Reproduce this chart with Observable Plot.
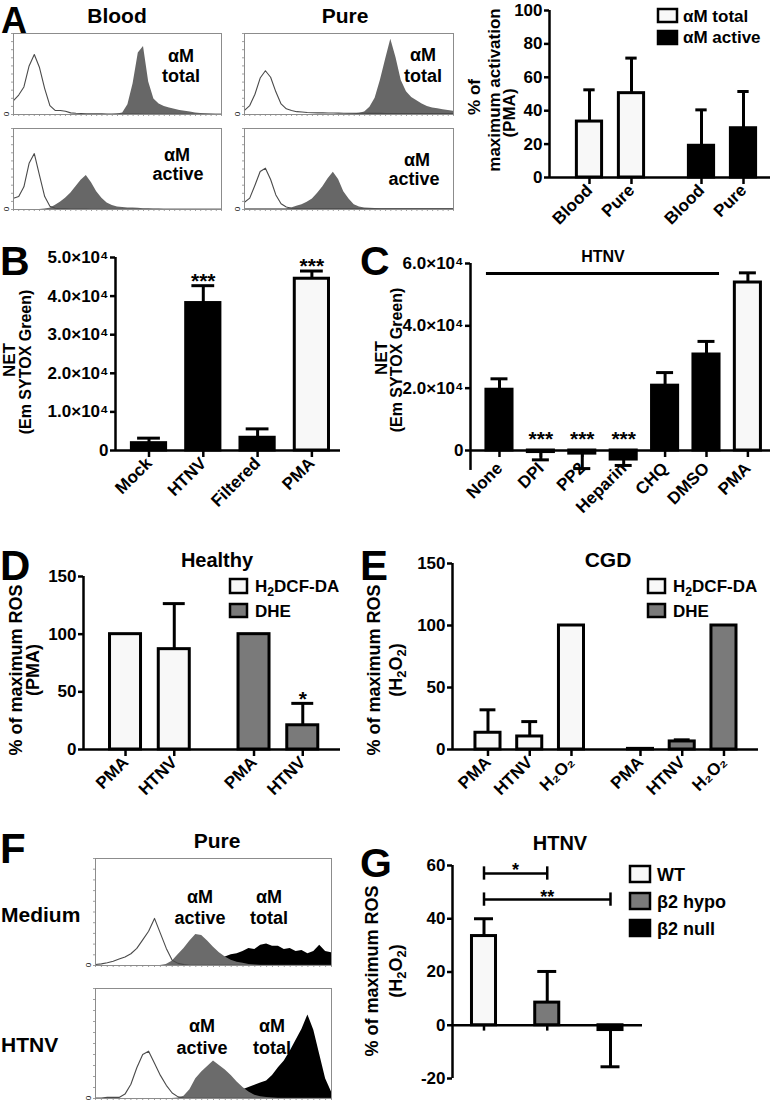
<!DOCTYPE html>
<html><head><meta charset="utf-8">
<script src="https://cdn.jsdelivr.net/npm/d3@7"></script>
<script src="https://cdn.jsdelivr.net/npm/@observablehq/plot@0.6"></script>
<style>
body{margin:0;background:#fff;}
#fig{position:relative;width:770px;height:1101px;overflow:hidden;background:#fff;font-family:"Liberation Sans",Arial,Helvetica,sans-serif;}
.pane{position:absolute;}
.pane svg{overflow:visible;}
#ov{position:absolute;left:0;top:0;pointer-events:none;overflow:visible;}
</style></head><body><div id="fig"></div>
<script>
// ---------------- DATA ----------------
// Flow cytometry histogram bins (log10 fluorescence, decades)
const histBins = [0,0.1,0.2,0.3,0.4,0.5,0.6,0.7,0.8,0.9,1,1.1,1.2,1.3,1.4,1.5,1.6,1.7,1.8,1.9,2,2.1,2.2,2.3,2.4,2.5,2.6,2.7,2.8,2.9,3,3.1,3.2,3.3,3.4,3.5,3.6,3.7,3.8,3.9,4];
// Panel A histograms (% of max count)
const aBloodTotalIso   = [17,24,34,60,74,58,32,11,5,5,4,2,1.5,1.2,1,1,0.8,0.8,0.7,0.6,0.6,0.5,0.5,0.5,0.5,0.4,0.4,0.4,0.4,0.3,0.3,0.3,0.3,0.3,0.2,0.2,0.2,0.2,0.2,0.2,0.2];
const aBloodTotalStain = [0,0,0,0,0,0,0,0,0,0,0,0,0,0,0,0,0,0,0,0,0.5,2,12,38,76,84,40,19,13,10,8,6.5,5,4,3,2,1.2,0.8,0.5,0.4,0.3];
const aBloodActiveIso  = [14,16,28,57,69,42,16,4,1.5,1,0.8,0.6,0.5,0.5,0.5,0.4,0.4,0.4,0.4,0.4,0.3,0.3,0.3,0.3,0.3,0.3,0.3,0.3,0.3,0.3,0.3,0.3,0.3,0.3,0.3,0.3,0.3,0.3,0.3,0.3,0.3];
const aBloodActiveStain= [0,0,0,0,0,0,0.5,1.5,5,9,14,20,28,36,42,33,22,14,8,5,3,2.5,2,2,1.5,1,0.8,0.6,0.5,0.4,0.3,0.3,0.3,0.3,0.3,0.3,0.3,0.3,0.3,0.3,0.3];
const aPureTotalIso    = [5,11,25,45,54,46,28,13,7,5,3.5,3,2.5,2.2,2,2,1.8,1.8,1.7,1.6,1.6,1.5,1.5,1.5,1.4,1.4,1.4,1.3,1.3,1.3,1.3,1.3,1.2,1.2,1.2,1.2,1.2,1.2,1.2,1.2,1.2];
const aPureTotalStain  = [0,0,0,0,0,0,0,0,0,0,0,0,0,0,0,0,0,0,0,0,0.5,1,1.5,3,9,20,42,68,93,70,42,28,21,17,13,10,8,7,6,5,4];
const aPureActiveIso   = [9,14,30,47,51,37,18,7,3,1.5,1.2,1,1,1,1,0.9,0.9,0.9,0.9,0.9,0.8,0.8,0.8,0.8,0.8,0.8,0.8,0.8,0.8,0.8,0.8,0.8,0.8,0.8,0.8,0.8,0.8,0.8,0.8,0.8,0.8];
const aPureActiveStain = [0.8,0.8,0.8,0.8,0.8,0.8,0.8,0.8,0.8,2,4,6,9,13,20,28,38,46,37,22,13,6,3,2,1.5,1.2,1,1,1,1,1,1,1,1,1,1,1,1,1,1,1];
// Panel F histograms
const fMediumIso    = [1,1.5,2.5,4,6,8,11,16,24,32,44,30,16,5,2,0.8,0.3,0.3,0.3,0.3,0.3,0.3,0.3,0.3,0.3,0.3,0.3,0.3,0.3,0.3,0.3,0.3,0.3,0.3,0.3,0.3,0.3,0.3,0.3,0.3,0.3];
const fMediumActive = [0,0,0,0,0,0,0,0,0,0,0,0,1,4,10,16,23,29,28,23,17,12,8,5,3,2,1,0.5,0,0,0,0,0,0,0,0,0,0,0,0,0];
const fMediumTotal  = [0,0,0,0,0,0,0,0,0,0,0,0,0,0,0,0,0,0,1,2,4,6,8,10,11,13,16,15,19,20,18,18,15,16,13,14,11,13,19,13,12];
const fHtnvIso      = [0.5,0.5,1,1,1,4,13,28,40,43,32,21,12,5,1.5,0.5,0.2,0.2,0.2,0.2,0.2,0.2,0.2,0.2,0.2,0.2,0.2,0.2,0.2,0.2,0.2,0.2,0.2,0.2,0.2,0.2,0.2,0.2,0.2,0.2,0.2];
const fHtnvActive   = [0,0,0,0,0,0,0,0,0,0,0,0,0,0,0.5,2,8,18,24,29,34,30,26,21,15,10,6,3,1.5,1,0.5,0,0,0,0,0,0,0,0,0,0];
const fHtnvTotal    = [0,0,0,0,0,0,0,0,0,0,0,0,0,0,0,0,0,0,0,0,1,2,3,4,6,8,10,12,14,16,21,28,34,43,53,63,76,62,40,18,6];

// Panel A bar chart (% of maximum activation, PMA)
const aStains = ["αM total", "αM active"];
const aConditions = ["Blood", "Pure"];
const aTotalMean = [33.5, 50.5], aTotalSD = [19, 21];
const aActiveMean = [19, 29.5], aActiveSD = [21.5, 22];
const aYTicks = [0, 20, 40, 60, 80, 100];

// Panel B (NET, Em SYTOX Green)
const bCategories = ["Mock", "HTNV", "Filtered", "PMA"];
const bMean = [1900, 38200, 3300, 44500];
const bSD = [1300, 4500, 2300, 2000];
const bStars = ["", "***", "", "***"];
const bYTicks = [0, 10000, 20000, 30000, 40000, 50000];

// Panel C
const cCategories = ["None", "DPI", "PP2", "Heparin", "CHQ", "DMSO", "PMA"];
const cMean = [19500, -500, -1000, -2900, 20800, 30800, 53900];
const cSD = [3500, 2500, 4800, 1900, 4200, 4200, 3100];
const cStars = ["", "***", "***", "***", "", "", ""];
const cBracket = {label: "HTNV", from: "None", to: "DMSO", level: 56800};
const cYTicks = [0, 20000, 40000, 60000];

// Panel D (Healthy)
const dProbes = ["H₂DCF-DA", "DHE"];
const dConditions = ["PMA", "HTNV"];
const dH2dcfMean = [100, 87], dH2dcfSD = [0, 39.5];
const dDheMean = [100, 21], dDheSD = [0, 19];
const dDheStars = ["", "*"];
const rosTicks = [0, 50, 100, 150];

// Panel E (CGD)
const eConditions = ["PMA", "HTNV", "H₂O₂"];
const eH2dcfMean = [13.5, 10.5, 100], eH2dcfSD = [18.5, 12, 0];
const eDheMean = [0.5, 6.5, 100], eDheSD = [0, 1.3, 0];

// Panel G (HTNV)
const gGenotypes = ["WT", "β2 hypo", "β2 null"];
const gMean = [33.5, 8.5, -1.8];
const gSD = [6.5, 11.7, 13.8];
const gBrackets = [{from: "WT", to: "β2 hypo", level: 57, label: "*"}, {from: "WT", to: "β2 null", level: 47.2, label: "**"}];
const gYTicks = [-20, 0, 20, 40, 60];

// ---------------- STYLE ----------------
const FONT = '"Liberation Sans", Arial, Helvetica, sans-serif';
const WHITE = "#f8f8f8", BLACK = "#000000", GRAY = "#7a7a7a";
const HIST_GRAY = "#676767", ISO = "#4a4a4a";
const fig = document.getElementById("fig");
const baseStyle = {fontFamily: FONT, fontSize: "17px", fontWeight: "bold", background: "transparent", overflow: "visible", color: "#000"};

function place(node, left, top, width) {
  const div = document.createElement("div");
  div.className = "pane";
  div.style.left = left + "px"; div.style.top = top + "px"; div.style.width = width + "px";
  div.appendChild(node); fig.appendChild(div);
}

function histogram(box, layers) {
  const marks = [];
  for (const L of layers) {
    const rows = histBins.map((x, i) => ({x, y: L.values[i]}));
    if (L.kind === "area") marks.push(Plot.areaY(rows, {x: "x", y: "y", fill: L.color, curve: "linear"}));
    else marks.push(Plot.lineY(rows, {x: "x", y: "y", stroke: L.color, strokeWidth: 1.1}));
  }
  marks.push(Plot.axisX({ticks: histBins, tickSize: 2, tickFormat: () => "", stroke: "#777", strokeWidth: 0.7, label: null}));
  marks.push(Plot.axisY({ticks: 10, tickSize: 2, tickFormat: () => "", stroke: "#777", strokeWidth: 0.7, label: null}));
  marks.push(Plot.frame({stroke: "#8c8c8c", strokeWidth: 1}));
  const p = Plot.plot({width: box.w, height: box.h, margin: 0,
    x: {domain: [0, 4], label: null}, y: {domain: [0, 100], label: null},
    style: baseStyle, marks});
  place(p, box.left, box.top, box.w);
}

function barChart(cfg) {
  const {rows, box, m, xDomain, yDomain, yTicks, yFmt, barW, capW, xLabels = true, yAxisExtent, tickPadX = 3, starDy = 2, starSize = 21, extra = []} = cfg;
  const tip = d => d.mean + (d.mean < 0 ? -d.sd : d.sd);
  const errRows = rows.filter(d => d.sd > 0);
  const labelOf = new Map(rows.map(d => [d.slot, d.label]));
  const marks = [
    Plot.rect(rows, {x1: d => d.slot - barW / 2, x2: d => d.slot + barW / 2, y1: 0, y2: "mean", fill: d => d.fill, stroke: BLACK, strokeWidth: 3}),
    Plot.ruleX(errRows, {x: "slot", y1: "mean", y2: tip, stroke: BLACK, strokeWidth: 3}),
    Plot.ruleY(errRows, {y: tip, x1: d => d.slot - capW / 2, x2: d => d.slot + capW / 2, stroke: BLACK, strokeWidth: 3}),
    Plot.ruleY([0], {stroke: BLACK, strokeWidth: 2.5}),
    Plot.ruleX([xDomain[0]], yAxisExtent ? {y1: yAxisExtent[0], y2: yAxisExtent[1], stroke: BLACK, strokeWidth: 2.5} : {stroke: BLACK, strokeWidth: 2.5}),
    Plot.axisY({ticks: yTicks, tickFormat: yFmt, tickSize: 5, tickPadding: 2, strokeWidth: 2.5, fontSize: 17, fontWeight: "bold", label: null}),
  ];
  if (xLabels) marks.push(Plot.axisX({ticks: rows.map(d => d.slot), tickFormat: s => labelOf.get(s), tickRotate: -45, tickSize: 7, tickPadding: tickPadX, strokeWidth: 2.5, fontSize: 17, fontWeight: "bold", label: null}));
  else marks.push(Plot.ruleX(rows, {x: "slot", y1: 0, y2: yDomain[0] * 0.11, stroke: BLACK, strokeWidth: 2.5}));
  const starRows = rows.filter(d => d.star);
  marks.push(Plot.text(starRows, {x: "slot", y: d => d.mean >= 0 ? tip(d) : 0, text: "star", lineAnchor: "bottom", dy: starDy, fontSize: starSize, fontWeight: "bold"}));
  marks.push(...extra);
  const p = Plot.plot({width: box.w, height: box.h,
    marginLeft: m.l, marginRight: m.r, marginTop: m.t, marginBottom: m.b,
    x: {type: "linear", domain: xDomain, label: null, ...(xLabels ? {} : {axis: null})},
    y: {domain: yDomain, label: null},
    color: {type: "identity"},
    style: baseStyle, marks});
  place(p, box.left, box.top, box.w);
}

// ---------------- PANEL A histograms ----------------
histogram({left: 13, top: 33, w: 208, h: 81}, [
  {kind: "area", values: aBloodTotalStain, color: HIST_GRAY},
  {kind: "line", values: aBloodTotalIso, color: ISO}]);
histogram({left: 13, top: 128, w: 208, h: 81}, [
  {kind: "area", values: aBloodActiveStain, color: HIST_GRAY},
  {kind: "line", values: aBloodActiveIso, color: ISO}]);
histogram({left: 244, top: 33, w: 209, h: 81}, [
  {kind: "area", values: aPureTotalStain, color: HIST_GRAY},
  {kind: "line", values: aPureTotalIso, color: ISO}]);
histogram({left: 244, top: 128, w: 209, h: 81}, [
  {kind: "area", values: aPureActiveStain, color: HIST_GRAY},
  {kind: "line", values: aPureActiveIso, color: ISO}]);

// ---------------- PANEL A bars ----------------
const aGroupStep = 2.667;
const aRows = aStains.flatMap((s, gi) => aConditions.map((c, ci) => ({
  slot: gi * aGroupStep + ci, label: c,
  mean: (gi === 0 ? aTotalMean : aActiveMean)[ci],
  sd: (gi === 0 ? aTotalSD : aActiveSD)[ci],
  fill: gi === 0 ? WHITE : BLACK, star: ""})));
barChart({rows: aRows, box: {left: 390, top: 0, w: 380, h: 240}, m: {l: 159, r: 0, t: 10, b: 63},
  xDomain: [-0.952, 4.31], yDomain: [0, 100], yTicks: aYTicks, yFmt: d => String(d), barW: 0.6, capW: 0.27});

// ---------------- PANEL B ----------------
const sci = d => d === 0 ? "0" : `${(d / 1e4).toFixed(1)}×10⁴`;
const bRows = bCategories.map((c, i) => ({slot: i, label: c, mean: bMean[i], sd: bSD[i], star: bStars[i], fill: c === "PMA" ? WHITE : BLACK}));
barChart({rows: bRows, box: {left: 0, top: 240, w: 390, h: 250}, m: {l: 115, r: 50, t: 17, b: 40},
  xDomain: [-0.617, 3.527], yDomain: [0, 50000], yTicks: bYTicks, yFmt: sci, barW: 0.63, capW: 0.42, starDy: 2});

// ---------------- PANEL C ----------------
const cRows = cCategories.map((c, i) => ({slot: i, label: c, mean: cMean[i], sd: cSD[i], star: cStars[i], fill: c === "PMA" ? WHITE : BLACK}));
const cBarW = 0.63;
const cSlot = name => cCategories.indexOf(name);
barChart({rows: cRows, box: {left: 390, top: 240, w: 380, h: 260}, m: {l: 80, r: 0, t: 23, b: 50},
  xDomain: [-0.70, 6.546], yDomain: [0, 60000], yTicks: cYTicks, yFmt: sci, barW: cBarW, capW: 0.41,
  yAxisExtent: [-6400, 60000], tickPadX: 8, starDy: -5,
  extra: [Plot.ruleY([cBracket], {y: "level", x1: d => cSlot(d.from) - cBarW / 2, x2: d => cSlot(d.to) + cBarW / 2, stroke: BLACK, strokeWidth: 3})]});

// ---------------- PANEL D ----------------
const dGroupStep = 2.636;
const dRows = dProbes.flatMap((p, gi) => dConditions.map((c, ci) => ({
  slot: gi * dGroupStep + ci, label: c,
  mean: (gi === 0 ? dH2dcfMean : dDheMean)[ci], sd: (gi === 0 ? dH2dcfSD : dDheSD)[ci],
  star: gi === 1 ? dDheStars[ci] : "", fill: gi === 0 ? WHITE : GRAY})));
barChart({rows: dRows, box: {left: 0, top: 500, w: 390, h: 310}, m: {l: 83, r: 50, t: 76, b: 61},
  xDomain: [-0.862, 4.41], yDomain: [0, 150], yTicks: rosTicks, yFmt: d => String(d), barW: 0.636, capW: 0.45, starDy: 3});

// ---------------- PANEL E ----------------
const eGroupStep = 3.653;
const eRows = dProbes.flatMap((p, gi) => eConditions.map((c, ci) => ({
  slot: gi * eGroupStep + ci, label: c,
  mean: (gi === 0 ? eH2dcfMean : eDheMean)[ci], sd: (gi === 0 ? eH2dcfSD : eDheSD)[ci],
  star: "", fill: gi === 0 ? WHITE : GRAY})));
barChart({rows: eRows, box: {left: 390, top: 500, w: 380, h: 310}, m: {l: 62, r: 12, t: 63, b: 61},
  xDomain: [-0.85, 6.48], yDomain: [0, 150], yTicks: rosTicks, yFmt: d => String(d), barW: 0.6, capW: 0.38});

// ---------------- PANEL F histograms ----------------
histogram({left: 95, top: 858, w: 236, h: 107}, [
  {kind: "area", values: fMediumTotal, color: BLACK},
  {kind: "area", values: fMediumActive, color: "#6b6b6b"},
  {kind: "line", values: fMediumIso, color: ISO}]);
histogram({left: 95, top: 988, w: 236, h: 110}, [
  {kind: "area", values: fHtnvTotal, color: BLACK},
  {kind: "area", values: fHtnvActive, color: "#6b6b6b"},
  {kind: "line", values: fHtnvIso, color: ISO}]);

// ---------------- PANEL G ----------------
const gFills = [WHITE, GRAY, BLACK];
const gRows = gGenotypes.map((g, i) => ({slot: i, label: g, mean: gMean[i], sd: gSD[i], star: "", fill: gFills[i]}));
const gSlot = name => gGenotypes.indexOf(name);
const gEnds = gBrackets.flatMap(b => [{x: gSlot(b.from), level: b.level}, {x: gSlot(b.to), level: b.level}]);
barChart({rows: gRows, box: {left: 390, top: 780, w: 380, h: 321}, m: {l: 62, r: 128, t: 85, b: 23},
  xDomain: [-0.498, 2.506], yDomain: [-20, 60], yTicks: gYTicks, yFmt: d => String(d), barW: 0.38, capW: 0.3, xLabels: false,
  extra: [
    Plot.ruleY(gBrackets, {y: "level", x1: d => gSlot(d.from), x2: d => gSlot(d.to), stroke: BLACK, strokeWidth: 2.5}),
    Plot.ruleX(gEnds, {x: "x", y1: d => d.level - 2.5, y2: d => d.level + 2.5, stroke: BLACK, strokeWidth: 2.5}),
    Plot.text(gBrackets, {x: d => (gSlot(d.from) + gSlot(d.to)) / 2, y: "level", text: "label", lineAnchor: "bottom", dy: 3, fontSize: 18, fontWeight: "bold"})
  ]});

// ---------------- OVERLAY TEXT ----------------
const ov = [];
function txt(x, y, s, o = {}) {
  const size = o.size || 18, anchor = o.anchor || "start", weight = o.weight || "bold";
  const pos = o.rot ? `transform="translate(${x},${y}) rotate(${o.rot})"` : `x="${x}" y="${y}"`;
  ov.push(`<text ${pos} font-size="${size}" font-weight="${weight}" text-anchor="${anchor}">${s}</text>`);
}
function box(x, y, w, h, fill) {
  ov.push(`<rect x="${x}" y="${y}" width="${w}" height="${h}" fill="${fill}" stroke="#000" stroke-width="2.5"/>`);
}
const sub = d => `<tspan dy="4" font-size="0.72em">${d}</tspan>`;
const up = s => `<tspan dy="-4">${s}</tspan>`;
const H2DCF = `H${sub(2)}${up("DCF-DA")}`;
const H2O2p = `(H${sub(2)}${up("O")}${sub(2)}${up(")")}`;

// panel letters
[["A", 1, 33, 36], ["B", 0, 275, 41], ["C", 360, 275, 41], ["D", 0, 580, 42], ["E", 360, 580, 42], ["F", 0, 863, 42], ["G", 360, 877, 41]]
  .forEach(([s, x, y, sz]) => txt(x, y, s, {size: sz}));
// A
txt(117, 23, "Blood", {size: 21, anchor: "middle"});
txt(345, 23, "Pure", {size: 21, anchor: "middle"});
txt(181, 62, "αM", {anchor: "middle"}); txt(181, 82, "total", {anchor: "middle"});
txt(423, 61, "αM", {anchor: "middle"}); txt(423, 82, "total", {anchor: "middle"});
txt(177, 161, "αM", {anchor: "middle"}); txt(178, 180, "active", {anchor: "middle"});
txt(417, 166, "αM", {anchor: "middle"}); txt(414, 185, "active", {anchor: "middle"});
[[13, 114], [13, 209], [244, 114], [244, 209], [95, 965], [95, 1098]].forEach(([x, y]) =>
  txt(x - 4, y, "0", {size: 8, weight: "normal", anchor: "middle", rot: -90}));
txt(480, 97, "% of", {size: 17, anchor: "middle", rot: -90});
txt(500, 90, "maximum activation", {size: 17, anchor: "middle", rot: -90});
txt(515, 113, "(PMA)", {size: 17, anchor: "middle", rot: -90});
box(658, 9, 19, 13, WHITE); txt(683, 22, aStains[0], {size: 17});
box(658, 31, 19, 13, BLACK); txt(683, 43, aStains[1], {size: 17});
// B, C
txt(15, 360, "NET", {size: 17, anchor: "middle", rot: -90});
txt(31, 362, "(Em SYTOX Green)", {size: 16, anchor: "middle", rot: -90});
txt(387, 358, "NET", {size: 17, anchor: "middle", rot: -90});
txt(402, 360, "(Em SYTOX Green)", {size: 16, anchor: "middle", rot: -90});
txt(603, 262, cBracket.label, {size: 16, anchor: "middle"});
// D
txt(217, 567, "Healthy", {size: 20, anchor: "middle"});
txt(22, 670, "% of maximum ROS", {size: 18, anchor: "middle", rot: -90});
txt(39, 670, "(PMA)", {size: 18, anchor: "middle", rot: -90});
box(230, 579, 17, 14, WHITE); txt(255, 592, H2DCF, {size: 17});
box(230, 604, 17, 13, GRAY); txt(255, 617, dProbes[1], {size: 17});
// E
txt(608, 567, "CGD", {size: 21, anchor: "middle"});
txt(380, 670, "% of maximum ROS", {size: 18, anchor: "middle", rot: -90});
txt(402, 670, H2O2p, {size: 18, anchor: "middle", rot: -90});
box(648, 579, 17, 14, WHITE); txt(673, 592, H2DCF, {size: 17});
box(648, 604, 17, 13, GRAY); txt(673, 617, dProbes[1], {size: 17});
// F
txt(217, 848, "Pure", {size: 21, anchor: "middle"});
txt(1, 922, "Medium", {size: 21});
txt(1, 1052, "HTNV", {size: 21});
txt(200, 903, "αM", {anchor: "middle"}); txt(200, 924, "active", {anchor: "middle"});
txt(269, 903, "αM", {anchor: "middle"}); txt(269, 924, "total", {anchor: "middle"});
txt(202, 1032, "αM", {anchor: "middle"}); txt(202, 1054, "active", {anchor: "middle"});
txt(272, 1032, "αM", {anchor: "middle"}); txt(272, 1054, "total", {anchor: "middle"});
// G
txt(560, 850, "HTNV", {size: 20, anchor: "middle"});
txt(378, 971, "% of maximum ROS", {size: 18, anchor: "middle", rot: -90});
txt(402, 971, H2O2p, {size: 18, anchor: "middle", rot: -90});
[[866, WHITE], [893, GRAY], [920, BLACK]].forEach(([y, f], i) => {
  box(630, y, 20, 16, f); txt(657, y + 15, gGenotypes[i], {size: 18});
});

const ovSvg = `<svg id="ov" width="770" height="1101" xmlns="http://www.w3.org/2000/svg" font-family='${FONT}' fill="#000">${ov.join("")}</svg>`;
fig.insertAdjacentHTML("beforeend", ovSvg);
</script></body></html>
